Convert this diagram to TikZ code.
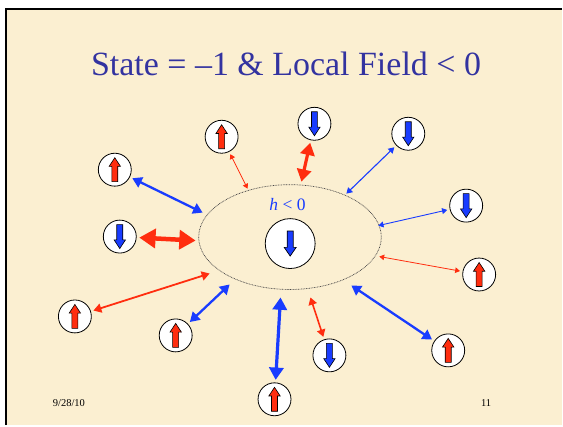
\documentclass[tikz,border=0pt]{standalone}
\usepackage{fontspec}
\setmainfont{Liberation Serif}
\usetikzlibrary{arrows.meta,shapes.geometric}
\definecolor{bg}{RGB}{251,239,209}
\definecolor{titleblue}{RGB}{51,51,160}
\definecolor{sblue}{RGB}{25,60,255}
\definecolor{sred}{RGB}{255,45,15}
\definecolor{ellgray}{RGB}{70,70,70}
\tikzset{
  spin/.style={circle,draw=black,fill=white,line width=0.8pt,minimum size=33pt,inner sep=0pt,outer sep=3pt},
  bigspin/.style={spin,minimum size=50pt,outer sep=0pt},
  lk/.style={{Triangle[]}-{Triangle[]},line width=#1},
  upspin/.pic={\draw[black,line width=0.6pt,fill=sred] (0,-12)--(5.7,-3.3)--(3,-3.3)--(3,12)--(-3,12)--(-3,-3.3)--(-5.7,-3.3)--cycle;},
  downspin/.pic={\draw[black,line width=0.6pt,fill=sblue] (0,12)--(5.7,3.3)--(3,3.3)--(3,-12)--(-3,-12)--(-3,3.3)--(-5.7,3.3)--cycle;},
  bigdown/.pic={\draw[black,line width=0.7pt,fill=sblue] (0,12.5)--(6,3.8)--(3,3.8)--(3,-12.5)--(-3,-12.5)--(-3,3.8)--(-6,3.8)--cycle;}
}
\begin{document}
\begin{tikzpicture}[x=1pt,y=-1pt]
\fill[white] (0,0) rectangle (563,426);
\fill[bg] (6,9) rectangle (563,426);
\draw[black,line width=2pt] (6,426) -- (6,9) -- (563,9);
\useasboundingbox (0,0) rectangle (563,426);
\node[text=titleblue,font=\fontsize{34}{40}\selectfont,anchor=base] (title) at (286.5,76) {State = –1 \& Local Field < 0};
\node[ellipse,draw=ellgray,line width=0.7pt,dash pattern=on 0.8pt off 0.8pt,minimum width=183pt,minimum height=105pt,inner sep=0pt] (field) at (290.5,237.5) {};
\node[text=sblue,font=\fontsize{17.5}{20}\selectfont,anchor=base] (hlabel) at (288,211) {\textit{h} < 0};
\node[bigspin] (c) at (290.7,244) {};
\pic at (c) {bigdown};
% neighbours
\node[spin] (s1) at (115,170) {}; \pic at (s1) {upspin};
\node[spin] (s2) at (222,137) {}; \pic at (s2) {upspin};
\node[spin] (s3) at (120,237) {}; \pic at (s3) {downspin};
\node[spin] (s4) at (315,124) {}; \pic at (s4) {downspin};
\node[spin] (s5) at (409,134) {}; \pic at (s5) {downspin};
\node[spin] (s6) at (467,206) {}; \pic at (s6) {downspin};
\node[spin] (s7) at (480,275) {}; \pic at (s7) {upspin};
\node[spin] (s8) at (449,351) {}; \pic at (s8) {upspin};
\node[spin] (s9) at (330,356) {}; \pic at (s9) {downspin};
\node[spin] (s10) at (275,400) {}; \pic at (s10) {upspin};
\node[spin] (s11) at (75,317) {}; \pic at (s11) {upspin};
\node[spin] (s12) at (176,336) {}; \pic at (s12) {upspin};
% ends on the field ellipse
\coordinate (e1) at (203,213);
\coordinate (e2) at (248,189);
\coordinate (e3) at (196,241);
\coordinate (e4) at (302,182);
\coordinate (e5) at (347,194);
\coordinate (e6) at (379,226);
\coordinate (e7) at (380,257);
\coordinate (e8) at (352,286);
\coordinate (e9) at (311,298);
\coordinate (e10) at (281,298);
\coordinate (e11) at (210,274);
\coordinate (e12) at (230,285);
\draw[lk=2.3pt,sblue] (s1) -- (e1);
\draw[lk=0.8pt,sred] (s2) -- (e2);
\draw[lk=4.5pt,sred] (s3) -- (e3);
\draw[lk=3.2pt,sred] (s4) -- (e4);
\draw[lk=1.1pt,sblue] (s5) -- (e5);
\draw[lk=0.9pt,sblue] (s6) -- (e6);
\draw[lk=0.8pt,sred] (s7) -- (e7);
\draw[lk=2.3pt,sblue] (s8) -- (e8);
\draw[lk=1.6pt,sred] (s9) -- (e9);
\draw[lk=3.2pt,sblue] (s10) -- (e10);
\draw[lk=1.8pt,sred] (s11) -- (e11);
\draw[lk=2.3pt,sblue] (s12) -- (e12);
\node[font=\fontsize{10.5}{12}\selectfont,anchor=base] (date) at (69,407) {9/28/10};
\node[font=\fontsize{10.5}{12}\selectfont,anchor=base] (page) at (487,407) {11};
\end{tikzpicture}
\end{document}
